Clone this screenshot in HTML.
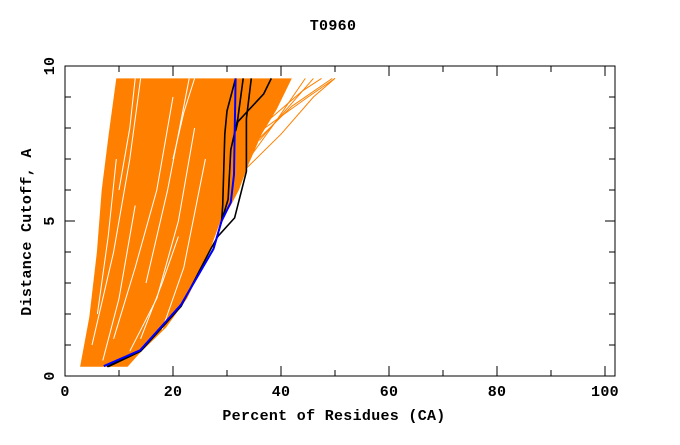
<!DOCTYPE html>
<html><head><meta charset="utf-8"><style>
body{margin:0;background:#fff;width:680px;height:440px;overflow:hidden}
svg text{font-family:"Liberation Mono",monospace;font-weight:bold;font-size:15px;fill:#000;letter-spacing:0.3px}
</style></head><body>
<svg id="chart" width="680" height="440" viewBox="0 0 680 440">
<text x="333" y="30" text-anchor="middle">T0960</text>
<g id="plot"></g>
<text x="334" y="420" text-anchor="middle">Percent of Residues (CA)</text>
<text transform="translate(31,232) rotate(-90)" text-anchor="middle">Distance Cutoff, A</text>
</svg>
<script>
const xTicks=[0,20,40,60,80,100];
const yTicks=[0,5,10];
const envelopeLeft=[[2.8,0.3],[4.5,1.9],[5.9,4],[6.8,6],[8.1,7.8],[9.5,9.6]];
const envelopeRight=[[11.6,0.3],[13.9,0.75],[18.7,1.56],[22.6,2.5],[26.5,3.9],[28.6,4.9],[30.7,5.5],[32.2,6],[33.9,6.8],[36.4,7.8],[39.2,8.6],[42,9.6]];
const fanLines=[
 [[33,6.6],[40,7.8],[46,9],[50,9.6]],
 [[35,7.5],[42,8.7],[49.5,9.6]],
 [[37,8],[45,9],[50,9.6]],
 [[38,8.3],[44,9.2],[47.5,9.6]],
 [[34,7],[39,8.2],[44.5,9.6]],
 [[36,7.6],[41,8.6],[46,9.6]]
];
const gapLines=[
 [[5,1],[9,4],[12,7],[14,9.6]],
 [[9,1.2],[13,3.5],[17,6],[20,9]],
 [[12,0.8],[17,2.5],[21,5],[24,8]],
 [[7,0.5],[10,2.5],[13,5.5]],
 [[15,3],[19,6],[23,9.6]],
 [[18,1.5],[22,3.5],[26,7]],
 [[10,6],[12,8],[13,9.6]],
 [[20,7],[22,8.5],[24,9.6]],
 [[6,2],[8,4.5],[9.5,7]],
 [[14,1.2],[18,3],[21,4.5]]
];
const blackLines=[
 [[7.2,0.32],[13.9,0.83],[21.5,2.3],[27.5,4.1],[29,5],[29.2,5.5],[29.6,7.8],[30,8.55],[31.6,9.6]],
 [[7.8,0.3],[13.9,0.8],[21.5,2.3],[27.5,4.1],[29,5],[30.2,5.7],[30.7,7.3],[32,8.3],[33,9.6]],
 [[8,0.3],[14,0.8],[21.5,2.25],[27,4.1],[28.3,4.5],[31.4,5.1],[33.6,6.6],[33.6,8.3],[34.5,9.6]],
 [[31.6,7.9],[32,8.2],[33.6,8.5],[36.8,9.1],[38.2,9.6]]
];
const blueLine=[[7.2,0.32],[13.9,0.83],[21.5,2.3],[27.5,4.1],[29,5],[30.7,5.6],[31.3,6.5],[31.6,9.6]];
const X0=65,X1=605,Y0=376,Y1=66,R=615;
const sx=v=>X0+(X1-X0)*v/100, sy=v=>Y0+(Y1-Y0)*v/10;
const g=document.getElementById('plot');const NS='http://www.w3.org/2000/svg';
function el(t,a){const e=document.createElementNS(NS,t);for(const k in a)e.setAttribute(k,a[k]);g.appendChild(e);return e;}
const pts=a=>a.map(p=>sx(p[0]).toFixed(1)+','+sy(p[1]).toFixed(1)).join(' ');
let e=el('polygon',{points:pts(envelopeLeft.concat(envelopeRight.slice().reverse())),fill:'#ff8000'});


gapLines.forEach(l=>{const p=el('polyline',{points:pts(l),fill:'none',stroke:'#fff','stroke-width':1});

});
fanLines.forEach(l=>{const p=el('polyline',{points:pts(l),fill:'none',stroke:'#ff8000','stroke-width':1});

});
blackLines.forEach(l=>{const p=el('polyline',{points:pts(l),fill:'none',stroke:'#000','stroke-width':1.6});

});
e=el('polyline',{points:pts(blueLine),fill:'none',stroke:'#0000ff','stroke-width':2});


e=el('rect',{x:X0,y:Y1,width:R-X0,height:Y0-Y1,fill:'none',stroke:'#000','stroke-width':1});


for(let v=0;v<=100;v+=10){const L=v%20==0?10:6;
 el('line',{x1:sx(v),x2:sx(v),y1:Y0,y2:Y0-L,stroke:'#000'});el('line',{x1:sx(v),x2:sx(v),y1:Y1,y2:Y1+L,stroke:'#000'});}
for(let v=0;v<=10;v+=1){const L=v%5==0?10:6;
 el('line',{x1:X0,x2:X0+L,y1:sy(v),y2:sy(v),stroke:'#000'});el('line',{x1:R,x2:R-L,y1:sy(v),y2:sy(v),stroke:'#000'});}
xTicks.forEach(v=>{const t=el('text',{x:sx(v),y:Y0+20,'text-anchor':'middle'});t.textContent=v;

});
yTicks.forEach(v=>{const t=el('text',{transform:`translate(${X0-11},${sy(v)}) rotate(-90)`,'text-anchor':'middle'});t.textContent=v;

});
</script>
</body></html>
